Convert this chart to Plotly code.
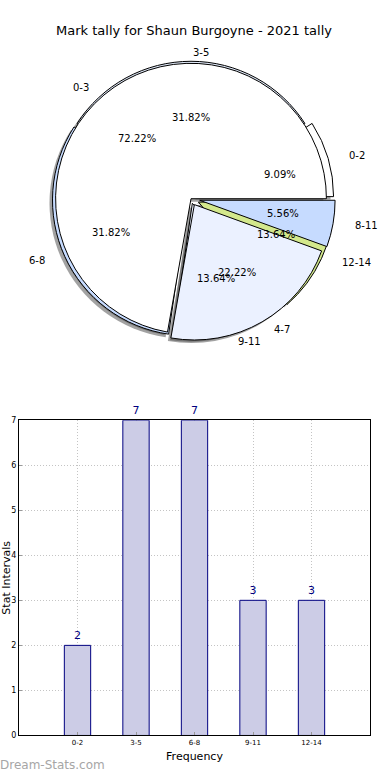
import numpy as np
import plotly.graph_objects as go

W, H = 390, 780

title = "Mark tally for Shaun Burgoyne - 2021 tally"

# Pie 1 (3-point intervals)
pie1_labels = ["0-2", "3-5", "6-8", "9-11", "12-14"]
pie1_values = [2, 7, 7, 3, 3]
pie1_colors = ["#ffffff", "#dfe8f7", "#c6dbff", "#eaf1ff", "#d3e88c"]
pie1_pull = [0.055, 0.015, 0.025, 0.035, 0.06]

# Pie 2 (4-point intervals)
pie2_labels = ["0-3", "4-7", "8-11"]
pie2_values = [13, 4, 1]
pie2_colors = ["#ffffff", "#ebf1ff", "#c6dbff"]
pie2_pull = [0.0, 0.05, 0.065]

# Bar chart
bar_labels = ["0-2", "3-5", "6-8", "9-11", "12-14"]
bar_values = [2, 7, 7, 3, 3]

# geometry of pie (screen pixels)
CX, CY, R = 191, 197, 137
RX, RY = 141, 133   # text placement radii


def px_x(x):
    return x / W


def px_y(y):
    return 1 - y / H


def dom(cx, cy, r, maxpull):
    h = r * (1 + maxpull)
    return dict(x=[px_x(cx - h), px_x(cx + h)], y=[px_y(cy + h), px_y(cy - h)])


def rotation_for(values):
    v = np.array(values, dtype=float)
    a0 = v[0] / v.sum() * 360
    return 90 - a0


fig = go.Figure()


def pie_trace(values, colors, pull, shadow=False):
    mp = max(pull)
    if shadow:
        d = dom(CX - 3, CY + 3, R, mp)
        mk = dict(colors=["rgba(70,70,70,0.5)"] * len(values), line=dict(width=0))
    else:
        d = dom(CX, CY, R, mp)
        mk = dict(colors=colors, line=dict(color="black", width=1))
    return go.Pie(values=values, sort=False, direction="counterclockwise",
                  rotation=rotation_for(values), pull=pull, domain=d,
                  textinfo="none", hoverinfo="skip", marker=mk, showlegend=False)


fig.add_trace(pie_trace(pie1_values, pie1_colors, pie1_pull, shadow=True))
fig.add_trace(pie_trace(pie2_values, pie2_colors, pie2_pull, shadow=True))
fig.add_trace(pie_trace(pie1_values, pie1_colors, pie1_pull))
fig.add_trace(pie_trace(pie2_values, pie2_colors, pie2_pull))


def add_pie_text(labels, values, pull):
    vals = np.array(values, dtype=float)
    frac = vals / vals.sum()
    ends = np.cumsum(frac) * 360
    starts = ends - frac * 360
    mids = np.radians((starts + ends) / 2)
    for lab, f, m, p in zip(labels, frac, mids, pull):
        c, s = np.cos(m), np.sin(m)
        ox, oy = p * RX * c, p * RY * s
        lx = CX + ox + 1.1 * RX * c
        ly = CY - oy - 1.1 * RY * s
        fig.add_annotation(x=px_x(lx), y=px_y(ly), xref="paper", yref="paper", text=lab,
                           showarrow=False, xanchor="left" if c > 0 else "right",
                           yanchor="middle", font=dict(size=10, color="black"))
        qx = CX + ox + 0.6 * RX * c
        qy = CY - oy - 0.6 * RY * s
        fig.add_annotation(x=px_x(qx), y=px_y(qy), xref="paper", yref="paper",
                           text=f"{f*100:.2f}%", showarrow=False, xanchor="center",
                           yanchor="middle", font=dict(size=10, color="black"))


add_pie_text(pie1_labels, pie1_values, pie1_pull)
add_pie_text(pie2_labels, pie2_values, pie2_pull)

# Bar chart
fig.add_trace(go.Bar(x=bar_labels, y=bar_values, width=0.45,
                     marker=dict(color="#ccccE6", line=dict(color="#000080", width=1)),
                     text=[str(v) for v in bar_values], textposition="outside",
                     textfont=dict(color="#000080", size=11), cliponaxis=False,
                     hoverinfo="skip", showlegend=False, xaxis="x", yaxis="y"))

grid = dict(showline=True, mirror=True, linecolor="black", linewidth=1,
            showgrid=True, gridcolor="#c4c4c4", griddash="1px,2px", gridwidth=1,
            ticks="inside", ticklen=3, tickcolor="#999", zeroline=False,
            fixedrange=True, layer="above traces")

fig.update_layout(
    width=W, height=H,
    margin=dict(l=0, r=0, t=0, b=0),
    paper_bgcolor="white", plot_bgcolor="white",
    font=dict(family="DejaVu Sans", color="black"),
    title=dict(text=title, x=px_x(194), xanchor="center", y=px_y(30), yanchor="middle",
               font=dict(size=13, color="black")),
    xaxis=dict(domain=[px_x(19), px_x(370)], range=[-1, 5], type="category",
               tickfont=dict(size=7),
               title=dict(text="Frequency", font=dict(size=11), standoff=6), **grid),
    yaxis=dict(domain=[px_y(740), px_y(421)], range=[0, 7], dtick=1,
               tickfont=dict(size=8),
               title=dict(text="Stat Intervals", font=dict(size=11), standoff=2), **grid),
)

fig.add_annotation(x=px_x(0), y=px_y(770), xref="paper", yref="paper", text="Dream-Stats.com",
                   showarrow=False, xanchor="left", yanchor="middle", xshift=-2,
                   font=dict(size=12, color="#a6a6a6", family="DejaVu Sans"))

fig.write_html("out.html", config={"displayModeBar": False},
               post_script="document.body.style.margin='0';")
